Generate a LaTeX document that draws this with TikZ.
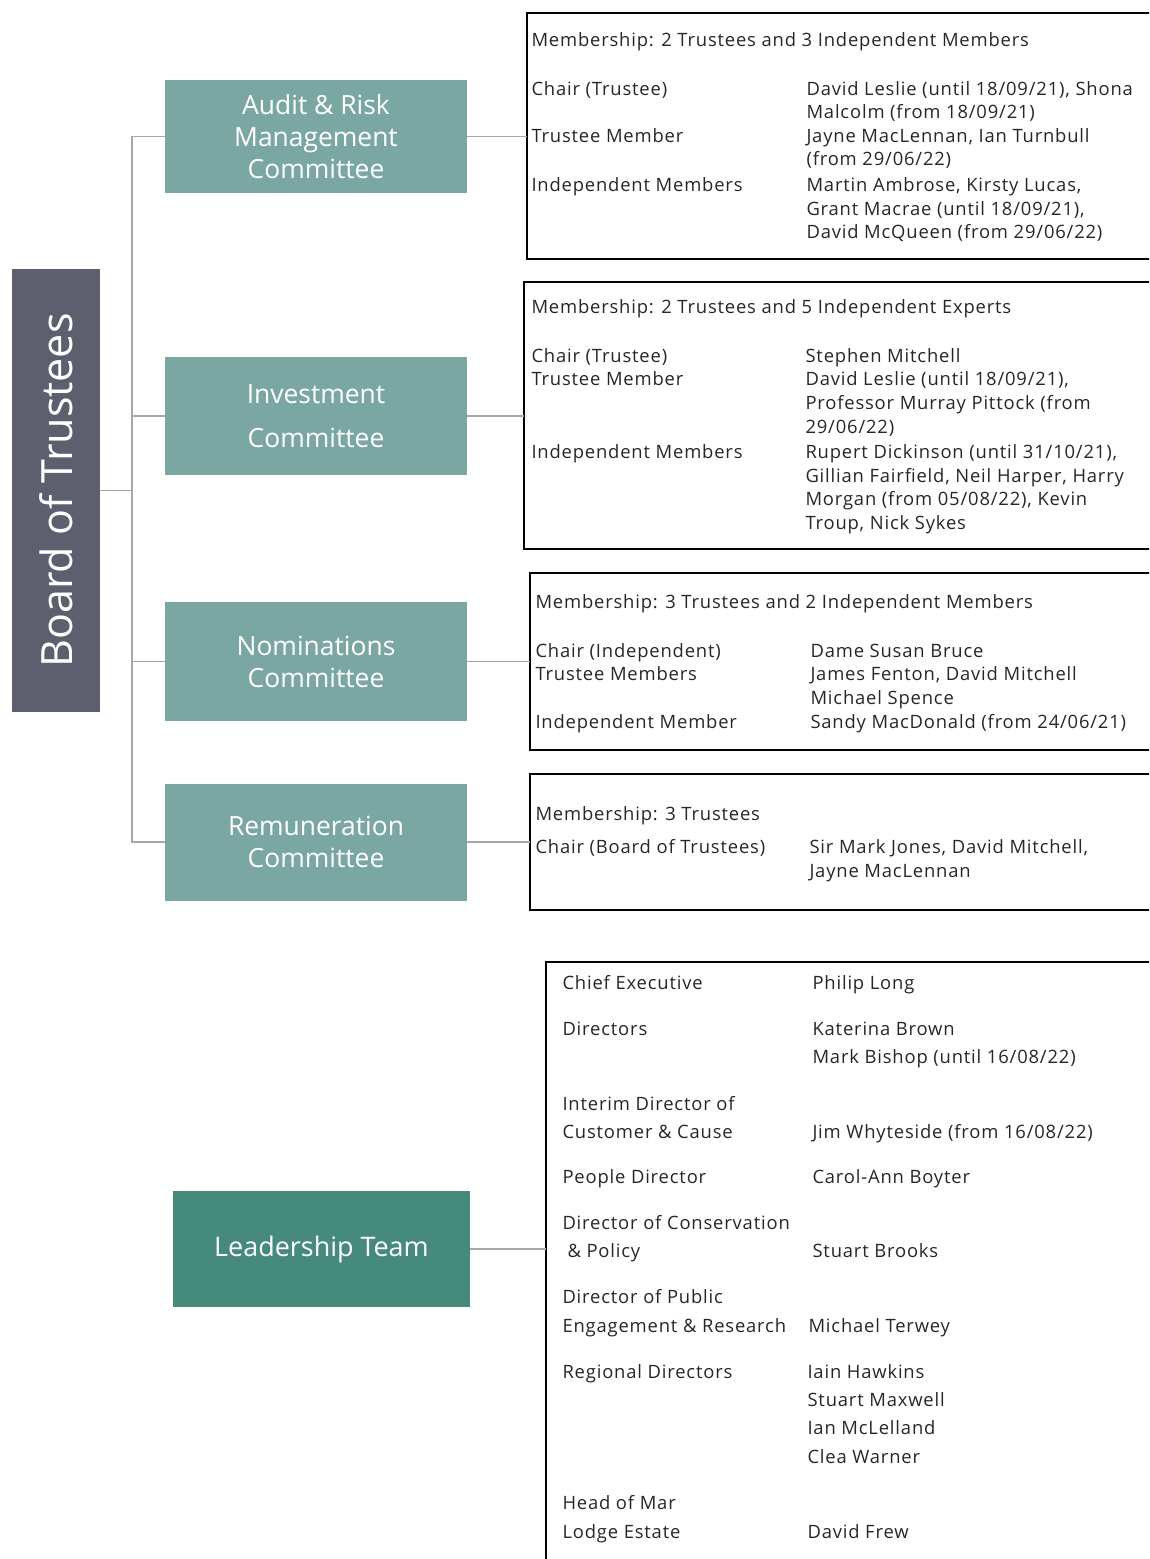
\documentclass[tikz,border=0pt]{standalone}
\usepackage{fontspec}
\setmainfont{Open Sans}
\newfontfamily\detailfont[LetterSpace=4.5]{Open Sans}
\usepackage{graphicx}
\usepackage{xcolor}
\definecolor{boardgrey}{HTML}{5D5F6E}
\definecolor{committee}{HTML}{7BA7A2}
\definecolor{leadgreen}{HTML}{468A7C}
\definecolor{linkgrey}{HTML}{A8A8A8}
\definecolor{inkgrey}{HTML}{262626}
\tikzset{every picture/.style={line width=0.75pt}}
\tikzset{
  boardbox/.style={fill=boardgrey, text=white, inner sep=0pt, outer sep=0pt,
    minimum width=66pt, minimum height=332.25pt, font=\fontsize{32.3}{38}\selectfont},
  comm/.style={fill=committee, text=white, inner sep=0pt, outer sep=0pt, align=center,
    minimum width=226.5pt, font=\fontsize{19.8}{24}\selectfont},
  leadbox/.style={fill=leadgreen, text=white, inner sep=0pt, outer sep=0pt,
    minimum width=222.75pt, minimum height=87pt, font=\fontsize{20.2}{24}\selectfont},
  panel/.style={draw=black, line width=1.2pt, anchor=north west, inner sep=0pt,
    outer sep=0pt, minimum width=480pt},
  link/.style={draw=linkgrey, line width=1.1pt},
  entry/.style={anchor=west, inner sep=0pt, text height=12.5pt, text depth=2pt,
    text=inkgrey, font=\detailfont\fontsize{13.8}{16}\selectfont}
}

\begin{document}
\begin{tikzpicture}[x=0.75pt,y=0.75pt,yscale=-1,xscale=1]
\useasboundingbox (0,0) rectangle (1149,1559);
\clip (0,0) rectangle (1149,1559);

%Board
\node[boardbox] (board) at (56,490.5) {\rotatebox{90}{Board of Trustees}};

%Committees
\node[comm, minimum height=84.75pt] (audit) at (316,136.5) {Audit \& Risk\\Management\\Committee};
\node[comm, minimum height=88.5pt, font=\fontsize{19.8}{33}\selectfont] (invest) at (316,416) {Investment\\Committee};
\node[comm, minimum height=89.25pt] (nomin) at (316,661.5) {Nominations\\Committee};
\node[comm, minimum height=87.75pt] (remun) at (316,842) {Remuneration\\Committee};
\node[leadbox] (lead) at (321.5,1249) {Leadership Team};

%Membership panels
\node[panel, minimum height=184.5pt] (auditbox) at (527,13) {};
\node[panel, minimum height=200.25pt] (investbox) at (524,282) {};
\node[panel, minimum height=132.75pt] (nominbox) at (530,573) {};
\node[panel, minimum height=102pt] (remunbox) at (530,774) {};
\node[panel, minimum height=525pt] (leadpanel) at (546,962) {};

%Tree
\coordinate (trunk) at (132,491);
\draw[link] (board.east) -- (board.east -| trunk);
\draw[link] (audit.west) -- (audit.west -| trunk) -- (remun.west -| trunk) -- (remun.west);
\draw[link] (invest.west) -- (invest.west -| trunk);
\draw[link] (nomin.west) -- (nomin.west -| trunk);
\draw[link] (audit.east) -- (audit.east -| auditbox.west);
\draw[link] (invest.east) -- (invest.east -| investbox.west);
\draw[link] (nomin.east) -- (nomin.east -| nominbox.west);
\draw[link] (remun.east) -- (remun.east -| remunbox.west);
\draw[link] (lead.east) -- (lead.east -| leadpanel.west);

%Audit & Risk
\foreach \x/\y/\txt [count=\i] in {531/40/{Membership: 2 Trustees and 3 Independent Members},
  531/89/{Chair (Trustee)}, 531/136/{Trustee Member}, 531/184/{Independent Members},
  806/89/{David Leslie (until 18/09/21), Shona}, 806/112/{Malcolm (from 18/09/21)},
  806/136/{Jayne MacLennan, Ian Turnbull}, 806/159/{(from 29/06/22)},
  806/184/{Martin Ambrose, Kirsty Lucas,}, 806/208/{Grant Macrae (until 18/09/21),},
  806/231/{David McQueen (from 29/06/22)}}
  \node[entry] (audit-\i) at (\x,\y) {\txt};

%Investment
\foreach \x/\y/\txt [count=\i] in {531/306/{Membership: 2 Trustees and 5 Independent Experts},
  531/355/{Chair (Trustee)}, 531/378/{Trustee Member}, 531/451/{Independent Members},
  805/355/{Stephen Mitchell}, 805/378/{David Leslie (until 18/09/21),},
  805/402/{Professor Murray Pittock (from}, 805/426/{29/06/22)},
  805/451/{Rupert Dickinson (until 31/10/21),}, 805/475/{Gillian Fairfield, Neil Harper, Harry},
  805/498/{Morgan (from 05/08/22), Kevin}, 805/522/{Troup, Nick Sykes}}
  \node[entry] (invest-\i) at (\x,\y) {\txt};

%Nominations
\foreach \x/\y/\txt [count=\i] in {535/601/{Membership: 3 Trustees and 2 Independent Members},
  535/650/{Chair (Independent)}, 535/673/{Trustee Members}, 535/721/{Independent Member},
  810/650/{Dame Susan Bruce}, 810/673/{James Fenton, David Mitchell},
  810/697/{Michael Spence}, 810/721/{Sandy MacDonald (from 24/06/21)}}
  \node[entry] (nomin-\i) at (\x,\y) {\txt};

%Remuneration
\foreach \x/\y/\txt [count=\i] in {535/813/{Membership: 3 Trustees},
  535/846/{Chair (Board of Trustees)}, 809/846/{Sir Mark Jones, David Mitchell,},
  809/870/{Jayne MacLennan}}
  \node[entry] (remun-\i) at (\x,\y) {\txt};

%Leadership
\foreach \x/\y/\txt [count=\i] in {562/982/{Chief Executive}, 562/1028/{Directors},
  562/1103/{Interim Director of}, 562/1131/{Customer \& Cause}, 562/1176/{People Director},
  562/1222/{Director of Conservation}, 567/1250/{\& Policy}, 562/1296/{Director of Public},
  562/1325/{Engagement \& Research}, 562/1371/{Regional Directors},
  562/1502/{Head of Mar}, 562/1531/{Lodge Estate},
  812/982/{Philip Long}, 812/1028/{Katerina Brown}, 812/1056/{Mark Bishop (until 16/08/22)},
  812/1131/{Jim Whyteside (from 16/08/22)}, 812/1176/{Carol-Ann Boyter},
  812/1250/{Stuart Brooks}, 808/1325/{Michael Terwey}, 807/1371/{Iain Hawkins},
  807/1399/{Stuart Maxwell}, 807/1427/{Ian McLelland}, 807/1456/{Clea Warner},
  807/1531/{David Frew}}
  \node[entry] (lead-\i) at (\x,\y) {\txt};

\end{tikzpicture}
\end{document}
